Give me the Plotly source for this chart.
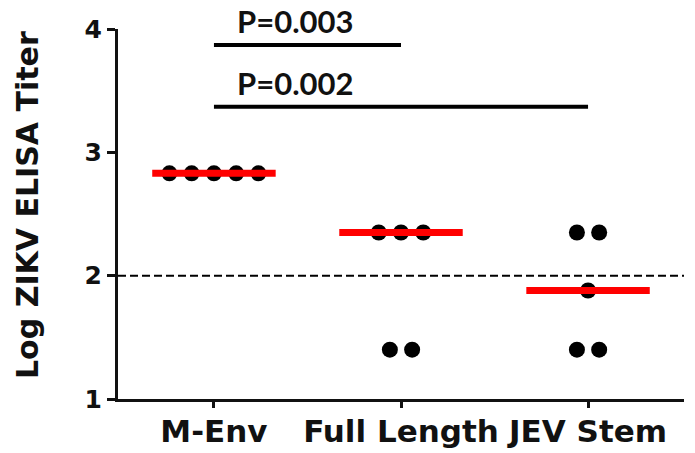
import numpy as np
import plotly.graph_objects as go

# ---- data ----
categories = ["M-Env", "Full Length", "JEV Stem"]
m_env = [2.83, 2.83, 2.83, 2.83, 2.83]
full_length = [2.35, 2.35, 2.35, 1.40, 1.40]
jev_stem = [2.35, 2.35, 1.88, 1.40, 1.40]
groups = [m_env, full_length, jev_stem]

y_ticks = [1, 2, 3, 4]
threshold = 2
comparisons = [(0, 1, "P=0.003"), (0, 2, "P=0.002")]
bracket_levels = [3.87, 3.37]

# ---- style ----
DOT_GAP = 0.119      # horizontal spacing of tied points (x units)
HALF_LINE = 0.33     # half width of median line (x units)
AX_FONT = "DejaVu Sans"

fig = go.Figure()

for i, vals in enumerate(groups):
    vals = np.asarray(vals, dtype=float)
    xs = np.zeros(len(vals))
    for v in np.unique(vals):
        idx = np.where(vals == v)[0]
        n = len(idx)
        xs[idx] = i + (np.arange(n) - (n - 1) / 2) * DOT_GAP
    fig.add_trace(go.Scatter(
        x=xs, y=vals, mode="markers",
        marker=dict(color="black", size=16, line=dict(width=0)),
        showlegend=False, hoverinfo="skip", cliponaxis=False))

for i, vals in enumerate(groups):
    med = float(np.median(vals))
    fig.add_trace(go.Scatter(
        x=[i - HALF_LINE, i + HALF_LINE], y=[med, med], mode="lines",
        line=dict(color="#ff0000", width=7),
        showlegend=False, hoverinfo="skip", cliponaxis=False))

# threshold dashed line
fig.add_shape(type="line", xref="paper", yref="y", x0=0, x1=1,
              y0=threshold, y1=threshold,
              line=dict(color="black", width=2, dash="8px,4px"))

# significance bars
for (a, b, label), lvl in zip(comparisons, bracket_levels):
    fig.add_shape(type="line", xref="x", yref="y", x0=a, x1=b, y0=lvl, y1=lvl,
                  line=dict(color="black", width=4))
    fig.add_annotation(x=a, y=lvl, xref="x", yref="y", text=label,
                       showarrow=False, xanchor="left", yanchor="bottom",
                       xshift=21, yshift=3,
                       font=dict(family="Lato", size=31, color="#111", weight="bold"))

# y-axis title
fig.add_annotation(xref="paper", yref="paper", x=0, y=0.5, xshift=-91,
                   yshift=9,
                   text="Log ZIKV ELISA Titer", textangle=-90, showarrow=False,
                   xanchor="center", yanchor="middle",
                   font=dict(family=AX_FONT, size=30, color="#111", weight="bold"))

fig.update_layout(
    width=695, height=453,
    margin=dict(l=118, r=11, t=29, b=54, pad=0, autoexpand=False),
    paper_bgcolor="white", plot_bgcolor="white",
    showlegend=False,
    xaxis=dict(
        range=[-0.513, 2.513], tickmode="array",
        tickvals=list(range(len(categories))), ticktext=categories,
        showgrid=False, zeroline=False, automargin=False,
        showline=True, linecolor="#111", linewidth=3,
        ticks="outside", ticklen=6, tickwidth=2.5, tickcolor="#111",
        ticklabelstandoff=-3,
        tickfont=dict(family=AX_FONT, size=31, color="#111", weight="bold"),
    ),
    yaxis=dict(
        range=[1, 4], tickmode="array", tickvals=y_ticks,
        ticktext=[str(t) for t in y_ticks],
        showgrid=False, zeroline=False, automargin=False,
        showline=True, linecolor="#111", linewidth=3,
        ticks="outside", ticklen=8, tickwidth=2.5, tickcolor="#111",
        tickfont=dict(family=AX_FONT, size=25, color="#111", weight="bold"),
    ),
)

fig.write_html("out.html", config={"displayModeBar": False},
               post_script="document.body.style.margin='0';document.body.style.overflow='hidden';")
